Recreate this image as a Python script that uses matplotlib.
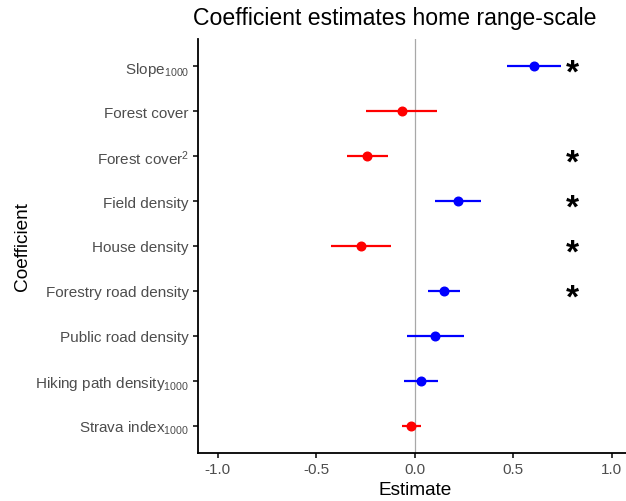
import matplotlib
matplotlib.use("Agg")
import matplotlib.pyplot as plt

# coefficient estimates, top to bottom as shown
labels = ["Slope$_{1000}$", "Forest cover", "Forest cover$^{2}$", "Field density",
          "House density", "Forestry road density", "Public road density",
          "Hiking path density$_{1000}$", "Strava index$_{1000}$"]
estimate = [0.603, -0.067, -0.241, 0.220, -0.275, 0.150, 0.105, 0.032, -0.017]
lower = [0.468, -0.246, -0.342, 0.103, -0.423, 0.069, -0.037, -0.056, -0.067]
upper = [0.741, 0.111, -0.137, 0.336, -0.123, 0.231, 0.248, 0.118, 0.034]
significant = [True, False, True, True, True, True, False, False, False]
x_ticks = [-1.0, -0.5, 0.0, 0.5, 1.0]

plt.rcParams['font.family'] = ['Liberation Sans', 'DejaVu Sans']
plt.rcParams['mathtext.fontset'] = 'custom'
plt.rcParams['mathtext.rm'] = 'Liberation Sans'
plt.rcParams['mathtext.it'] = 'Liberation Sans'
plt.rcParams['mathtext.default'] = 'regular'

fig = plt.figure(figsize=(6.26, 5.02), dpi=100)
# panel runs a bit past the right edge, like the original export
ax = fig.add_axes([198 / 626, 48.5 / 502, (631.5 - 198) / 626, (461.6 - 48.5) / 502])

n = len(labels)
ypos = list(range(n, 0, -1))

ax.axvline(0, color="#A8A8A8", lw=0.9, zorder=1)
for y, est, lo, hi, sig in zip(ypos, estimate, lower, upper, significant):
    col = "#0000FF" if est > 0 else "#FF0000"
    ax.plot([lo, hi], [y, y], color=col, lw=1.6, solid_capstyle="butt", zorder=2)
    ax.plot(est, y, "o", color=col, ms=6.2, zorder=3)
    if sig:
        # star glyph sits high in its box, nudge it down onto the row
        ax.text(0.8, y - 0.15, "*", fontsize=24, fontweight="bold",
                ha="center", va="center", color="black", zorder=4)

ax.set_xlim(-1.1, 1.1)
ax.set_ylim(0.4, n + 0.6)
ax.set_yticks(ypos)
ax.set_yticklabels(labels)
ax.set_xticks(x_ticks)
ax.set_xticklabels([f"{t:.1f}" for t in x_ticks])

for s in ["top", "right"]:
    ax.spines[s].set_visible(False)
for s in ["left", "bottom"]:
    ax.spines[s].set_linewidth(1.3)
    ax.spines[s].set_color("black")
ax.tick_params(axis="both", length=3.5, width=1.1, color="black",
               labelsize=11, labelcolor="#4D4D4D", pad=3)

ax.set_xlabel("Estimate", fontsize=13.7, labelpad=4)
ax.set_ylabel("Coefficient", fontsize=13.7, labelpad=3)

fig.text(193 / 626, 1 - 18 / 502, "Coefficient estimates home range-scale",
         fontsize=16.6, ha="left", va="center")

fig.savefig("out.png", dpi=100)
